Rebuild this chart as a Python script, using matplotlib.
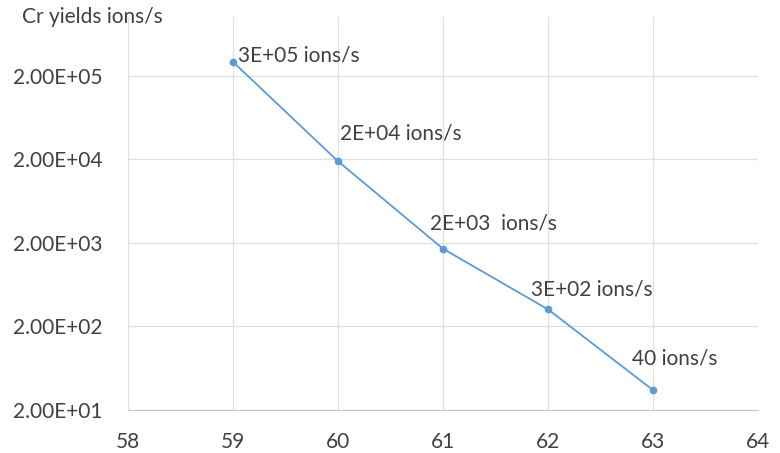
import matplotlib.pyplot as plt
import matplotlib.ticker as mticker

mass = [59, 60, 61, 62, 63]
yields = [2.94e5, 1.9e4, 1.7e3, 3.2e2, 34.5]
labels = ["3E+05 ions/s", "2E+04 ions/s", "2E+03  ions/s", "3E+02 ions/s", "40 ions/s"]
label_offsets = [(5, 6), (2, 28), (-13, 25), (-17, 20), (-21, 32)]
y_ticks = [2e1, 2e2, 2e3, 2e4, 2e5]

plt.rcParams['font.family'] = ['Lato', 'DejaVu Sans']
text_col = "#404040"
fs = 15

fig = plt.figure(figsize=(7.8, 4.53), dpi=100)
ax = fig.add_axes([0.164, 0.095, 0.808, 0.868])

ax.plot(mass, yields, color="#5B9BD5", lw=1.3, marker="o", ms=4.5, zorder=3)
for x, y, t, off in zip(mass, yields, labels, label_offsets):
    ax.annotate(t, (x, y), xytext=off, textcoords="offset pixels",
                ha="left", va="center", fontsize=fs, color=text_col)

ax.set_yscale("log")
ax.set_ylim(20, 1.02e6)
ax.set_xlim(58, 64)
ax.set_yticks(y_ticks)
ax.yaxis.set_minor_locator(mticker.NullLocator())
ax.set_yticklabels(["%.2E" % v for v in y_ticks])
ax.set_xticks(range(58, 65))

ax.grid(True, color="#E0E0E0", lw=0.9)
ax.set_axisbelow(True)
for s in ["top", "right", "left"]:
    ax.spines[s].set_visible(False)
ax.spines["bottom"].set_color("#C8C8C8")
ax.tick_params(length=0, labelsize=fs, colors=text_col)
ax.tick_params(axis="y", pad=18)
ax.tick_params(axis="x", pad=16)

fig.text(0.028, 0.962, "Cr yields ions/s", fontsize=fs, color=text_col, ha="left", va="center")

plt.savefig("out.png")
